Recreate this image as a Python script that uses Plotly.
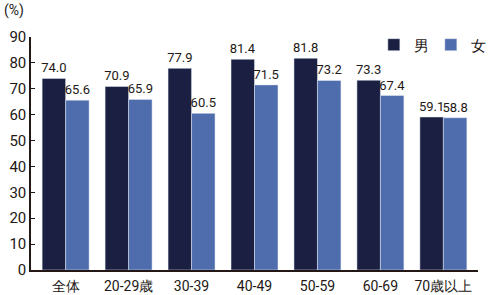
import plotly.graph_objects as go

categories = ["全体", "20-29歳", "30-39", "40-49", "50-59", "60-69", "70歳以上"]
male = [74.0, 70.9, 77.9, 81.4, 81.8, 73.3, 59.1]
female = [65.6, 65.9, 60.5, 71.5, 73.2, 67.4, 58.8]
y_ticks = [0, 10, 20, 30, 40, 50, 60, 70, 80, 90]

FONT = "Roboto, sans-serif"
INK = "#231815"

fig = go.Figure()
fig.add_trace(go.Bar(
    name="男", x=categories, y=male, marker_color="#1b2042",
    text=[f"{v:.1f}" for v in male], textposition="outside", constraintext="none",
    textfont=dict(size=13, color=INK, family=FONT), cliponaxis=False,
))
fig.add_trace(go.Bar(
    name="女", x=categories, y=female, marker_color="#4f6cad",
    text=[f"{v:.1f}" for v in female], textposition="outside", constraintext="none",
    textfont=dict(size=13, color=INK, family=FONT), cliponaxis=False,
))

fig.update_layout(
    width=491, height=295,
    margin=dict(l=31, r=13, t=37, b=25, autoexpand=False),
    paper_bgcolor="white", plot_bgcolor="white",
    barmode="group", bargap=0.254, bargroupgap=0,
    font=dict(family=FONT, color=INK, size=14),
    showlegend=True,
    legend=dict(orientation="h", x=0.767, y=0.966, xanchor="left", yanchor="middle",
                font=dict(size=15, color=INK), bgcolor="rgba(0,0,0,0)",
                entrywidth=12, entrywidthmode="pixels", tracegroupgap=0),
    xaxis=dict(range=[-0.55, 6.55], showline=True, linecolor=INK, linewidth=1.5,
               ticks="", automargin=False, ticklabelstandoff=2,
               tickfont=dict(size=14, color=INK, family=FONT)),
    yaxis=dict(range=[0, 90], tickvals=y_ticks, showline=True, linecolor=INK, linewidth=1.5,
               ticks="inside", ticklen=4, tickcolor=INK, showgrid=False, zeroline=False,
               automargin=False,
               tickfont=dict(size=15, color=INK, family=FONT)),
    annotations=[dict(text="(%)", xref="paper", yref="paper", x=-0.065, y=1.07,
                      xanchor="left", yanchor="bottom", showarrow=False,
                      font=dict(size=14, color=INK, family=FONT))],
)

fig.write_html("out.html")
